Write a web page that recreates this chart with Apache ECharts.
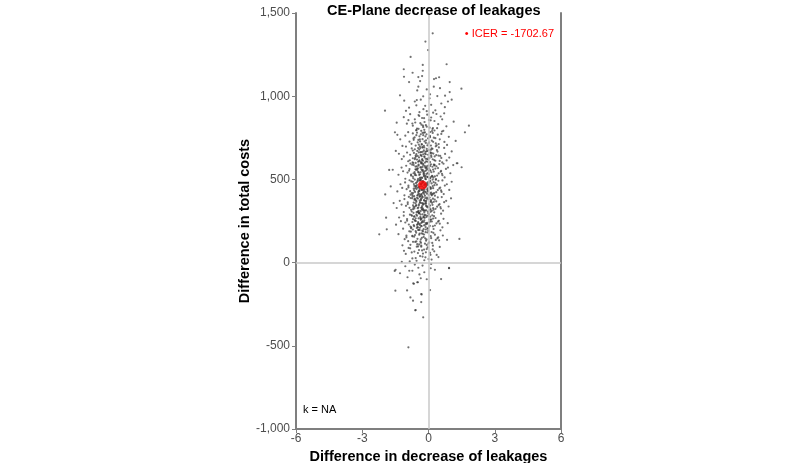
<!DOCTYPE html>
<html>
<head>
<meta charset="utf-8">
<script src="https://cdn.jsdelivr.net/npm/echarts@6/dist/echarts.min.js"></script>
<style>
  html, body { margin: 0; padding: 0; background: #fff; }
  #chart { width: 800px; height: 463px; }
</style>
</head>
<body>
<div id="chart"></div>
<script>
// simulated differences (effect, cost) read off the CE-plane
const simOutliers = [
  [0.19,1378],[-0.14,1328],[-0.02,1277],[-0.81,1236],[-0.26,1188],[0.82,1192],[-1.12,1162],[-0.26,1153],
  [-0.72,1141],[-1.11,1117],[-0.46,1115],[-0.29,1121],[0.48,1114],[0.34,1108],[0.25,1103],[-0.88,1085],
  [-0.38,1091],[0.24,1057],[0.96,1085],[-0.46,1057],[0.52,1048],[-0.51,1035],[-0.08,1041],[1.49,1045],
  [0.96,1025],[0.75,1003],[-1.29,1005],[-0.24,999],[0.07,1011],[0.40,1001],[-1.10,973],[-0.53,977],
  [1.05,979],[-1.97,913],[1.83,823],[-1.44,841],[-1.52,783],[1.65,783],
  [-2.23,170],[1.40,142],[1.50,573],[1.28,597],[-1.92,270],[-1.78,557],[-1.96,410],[0.93,-32],
  [-1.53,-50],[-1.89,200],
  [-1.50,-169],[-0.97,-167],[-0.69,-125],[-0.48,-118],[-0.82,-209],[-0.70,-229],[-0.33,-189],[-0.33,-237],
  [-0.60,-287],[-0.24,-329],[-0.91,-509],[0.07,-165],
  [-1.49,-43],[-1.29,-64],[-0.87,-49],[-0.73,-49],[-0.46,-31],[-0.19,-58],[0.10,-34],[0.29,-43],
  [0.93,-34],[0.57,-99],[-0.35,-94],[-0.08,-100],[-0.66,-127],[-0.51,-118],[-0.31,-191],[-0.58,-285],
  [-0.62,-12],[-0.27,-18],[-1.05,-22],[0.12,-8],[-0.41,-71],[-0.95,-88]
];

const simCore = [
  [-0.62,968],[-0.15,942],[0.31,915],[-0.88,931],[0.05,987],[-0.41,904],[0.58,956],[-0.23,922],[0.12,948],[-1.02,912],[0.74,934],[-0.35,979],[0.21,901],[-0.55,945],[0.88,968],[-0.08,910],
  [-0.45,887],[0.12,872],[-0.91,856],[0.36,893],[-0.18,845],[0.62,861],[-0.71,823],[0.05,811],[-0.29,869],[0.44,832],[-1.12,874],[0.27,851],[-0.52,806],[-0.06,889],[0.81,819],[-0.37,838],[0.18,803],[-0.83,892],[0.55,878],[-0.12,826],[1.14,847],[-0.62,861],[0.02,857],[-0.24,814],[0.39,808],[-0.98,835],[0.71,897],
  [-0.33,792],[0.08,785],[-0.71,776],[0.42,769],[-0.14,758],[-0.52,781],[0.24,751],[-1.05,763],[0.61,788],[-0.27,742],[0.15,733],[-0.86,727],[0.33,716],[-0.44,709],[0.03,722],[-0.19,798],[0.51,741],[-0.63,752],[0.72,725],[-1.28,741],[-0.09,771],[0.27,794],[-0.38,728],[0.11,703],[-0.77,714],[0.46,712],[-0.24,766],[0.92,756],[-0.56,795],[-0.02,746],[0.19,779],[-0.46,737],[-1.18,701],[0.37,704],[-0.31,712],[0.06,762],[-0.67,738],[0.58,773],[-0.12,719],[0.84,707],[-0.92,784],[0.21,726],[-0.41,759],[-0.05,705],[0.31,748],[-0.58,703],[1.23,731],[-0.21,781],[0.67,792],[-1.41,768],
  [-0.28,694],[0.14,687],[-0.62,681],[0.38,676],[-0.09,669],[-0.44,662],[0.22,655],[-0.83,648],[0.53,641],[-0.18,634],[0.04,627],[-0.52,619],[0.31,612],[-0.35,605],[-1.02,697],[0.71,689],[-0.71,673],[0.09,662],[-0.24,651],[0.45,643],[-0.57,637],[-0.13,624],[0.26,616],[-0.92,609],[0.62,602],[-0.39,698],[0.18,684],[-0.05,671],[-0.66,659],[0.35,646],[-0.31,639],[0.01,631],[-1.21,622],[0.82,614],[-0.47,606],[-0.16,601],[0.47,692],[-0.76,686],[0.11,678],[-0.26,666],[-0.55,652],[0.28,638],[-0.07,623],[-0.85,615],[0.58,629],[-0.33,645],[1.05,668],[-1.34,654],[-0.19,692],[0.07,604],[-0.42,679],[0.19,621],[-0.61,628],[0.41,667],[-0.11,609],[-0.97,661],[0.75,653],[-0.29,617],[-0.02,648],[0.33,699],[-0.49,641],[0.94,631],[-0.72,602],[0.15,658],[-0.36,663],[-1.12,638],[0.51,611],[-0.21,674],[1.31,597],[-1.48,671],
  [-0.31,597],[0.11,591],[-0.67,586],[0.36,579],[-0.14,573],[-0.48,566],[0.21,559],[-0.88,552],[0.55,546],[-0.22,539],[0.02,532],[-0.56,525],[0.29,518],[-0.38,511],[-1.05,504],[0.68,594],[-0.74,588],[0.08,581],[-0.27,575],[0.43,568],[-0.59,561],[-0.11,554],[0.24,547],[-0.95,541],[0.61,534],[-0.42,527],[0.16,521],[-0.04,514],[-0.69,507],[0.34,502],[-0.33,596],[-0.01,583],[-1.22,571],[0.79,563],[-0.51,556],[-0.17,549],[0.46,536],[-0.79,529],[0.12,516],[-0.29,509],[-0.58,599],[0.27,584],[-0.08,569],[-0.86,562],[0.57,551],[-0.36,543],[0.99,537],[-1.36,528],[-0.21,519],[0.05,506],[-0.45,589],[0.18,576],[-0.63,544],[0.39,523],[-0.12,501],[-1.01,582],[0.73,512],[-0.26,557],[-0.03,538],[0.31,565],[-0.53,578],[0.88,571],[-0.71,517],[0.13,543],[-0.39,531],[-1.15,549],[0.49,592],[-0.19,524],[-0.47,503],[0.22,511],[-0.82,595],[-0.06,561],[0.63,525],[-0.34,573],[-0.61,534],[0.09,552],[-1.62,558],[1.12,586],[-0.24,587],[-0.15,512],
  [-0.35,497],[0.08,491],[-0.71,486],[0.31,479],[-0.17,473],[-0.52,466],[0.19,459],[-0.91,452],[0.49,446],[-0.26,439],[-0.02,432],[-0.61,425],[0.26,418],[-0.42,411],[-1.09,404],[0.63,494],[-0.78,488],[0.04,481],[-0.31,475],[0.38,468],[-0.64,461],[-0.13,454],[0.21,447],[-0.99,441],[0.57,434],[-0.46,427],[0.12,421],[-0.07,414],[-0.73,407],[0.29,402],[-0.38,496],[-0.04,483],[-1.27,471],[0.74,463],[-0.56,456],[-0.21,449],[0.42,436],[-0.83,429],[0.09,416],[-0.33,409],[-0.62,499],[0.23,484],[-0.11,469],[-0.91,462],[0.53,451],[-0.41,443],[0.94,437],[-1.41,428],[-0.25,419],[0.01,406],[-0.49,489],[0.14,476],[-0.67,444],[0.35,423],[-0.16,401],[-1.06,482],[0.69,412],[-0.29,457],[-0.06,438],[0.27,465],[-0.57,478],[0.83,471],[-0.76,417],[0.1,443],[-0.43,431],[-1.19,449],[0.45,492],[-0.22,424],[-0.51,403],[0.18,411],[-0.86,495],[-0.09,461],[0.59,425],[-0.37,473],[-0.65,434],[0.06,452],[-1.71,458],[1.05,486],[-0.28,487],[-0.19,412],[-0.44,453],[-0.02,467],[0.33,498],[-0.81,408],[-0.31,438],
  [-0.38,397],[0.05,391],[-0.74,386],[0.28,379],[-0.2,373],[-0.55,366],[0.16,359],[-0.94,352],[0.46,346],[-0.29,339],[-0.05,332],[-0.64,325],[0.23,318],[-0.45,311],[-1.12,304],[0.6,394],[-0.81,388],[0.01,381],[-0.34,375],[0.35,368],[-0.67,361],[-0.16,354],[0.18,347],[-1.02,341],[0.54,334],[-0.49,327],[0.09,321],[-0.1,314],[-0.76,307],[0.26,302],[-0.41,396],[-0.07,383],[-1.3,371],[0.71,363],[-0.59,356],[-0.24,349],[0.39,336],[-0.86,329],[0.06,316],[-0.36,309],[-0.65,399],[0.2,384],[-0.14,369],[-0.94,362],[0.5,351],[-0.44,343],[0.91,337],[-1.44,328],[-0.28,319],[-0.02,306],[-0.52,389],[0.11,376],[-0.7,344],[0.32,323],[-0.19,301],[-1.09,382],[0.66,312],[-0.32,357],[-0.09,338],[0.24,365],[-0.6,378],[0.8,371],[-0.79,317],[0.07,343],[-0.46,331],[-1.22,349],[0.42,392],[-0.25,324],[-0.54,303],[0.15,311],[-0.89,395],[-0.12,361],[0.56,325],[-0.4,373],[-0.68,334],[0.03,352],[-1.58,358],[1.02,386],[-0.31,387],[-0.22,312],
  [-0.41,297],[0.02,291],[-0.77,286],[0.25,279],[-0.23,273],[-0.58,266],[0.13,259],[-0.97,252],[0.43,246],[-0.32,239],[-0.08,232],[-0.67,225],[0.2,218],[-0.48,211],[-1.15,204],[0.57,294],[-0.84,288],[-0.02,281],[-0.37,275],[0.32,268],[-0.7,261],[-0.19,254],[0.15,247],[-1.05,241],[0.51,234],[-0.52,227],[0.06,221],[-0.13,214],[-0.79,207],[0.23,202],[-0.44,296],[-0.1,283],[-1.33,271],[0.68,263],[-0.62,256],[-0.27,249],[0.36,236],[-0.89,229],[0.03,216],[-0.39,209],[-0.68,299],[0.17,284],[-0.17,269],[-0.97,262],[0.47,251],[-0.47,243],[0.87,237],[-1.47,228],[-0.31,219],[-0.05,206],[-0.55,289],[0.08,276],[-0.73,244],[0.29,223],[-0.22,201],[-1.12,282],[0.63,212],[-0.35,257],[-0.12,238],[0.21,265],[-0.63,278],[-0.82,217],[0.04,243],[-0.49,231],[-1.25,249],
  [-0.44,197],[-0.01,191],[-0.8,186],[0.22,179],[-0.26,173],[-0.61,166],[0.1,159],[-1.0,152],[0.4,146],[-0.35,139],[-0.11,132],[-0.7,125],[0.17,118],[-0.51,111],[-1.18,104],[0.54,194],[-0.87,188],[-0.05,181],[-0.4,175],[0.29,168],[-0.73,161],[-0.22,154],[0.12,147],[-1.08,141],[0.48,134],[-0.55,127],[0.03,121],[-0.16,114],[-0.82,107],[0.2,102],[-0.47,196],[-0.13,183],[-1.36,171],[0.65,163],[-0.65,156],[-0.3,149],[0.33,136],[-0.92,129],[0.0,116],[-0.42,109],[-0.71,199],[0.14,184],[-0.2,169],[-1.0,162],[0.44,151],[-0.5,143],[0.84,137],[-0.34,119],[-0.08,106],[-0.58,189],
  [-0.47,97],[-0.04,91],[-0.83,86],[0.19,79],[-0.29,73],[-0.64,66],[0.07,59],[-1.03,52],[0.37,46],[-0.38,39],[-0.14,32],[-0.73,25],[0.14,18],[-0.54,11],[-1.21,4],[0.51,94],[-0.9,88],[-0.08,81],[-0.43,75],[0.26,68],[-0.76,61],[-0.25,54],[0.09,47],[-0.58,27],[0.0,21],[-0.19,14],[-0.85,7],[0.45,33],[-0.33,96],[-1.11,71]
];

// extra points in the densest part of the cloud
const simCenter = [
  [-0.21,702],[-0.47,688],[0.02,676],[-0.33,664],[-0.12,651],[-0.58,643],[0.13,635],[-0.28,622],[-0.41,614],[-0.06,606],[-0.69,598],[0.24,589],[-0.17,581],[-0.37,572],[-0.52,564],[0.06,556],[-0.24,548],[-0.44,541],[-0.09,533],[-0.61,526],[0.18,518],[-0.31,511],[-0.14,503],[-0.49,495],[0.04,488],[-0.27,480],[-0.66,472],[-0.19,465],[-0.39,457],[0.11,449],[-0.54,442],[-0.23,434],[-0.03,427],[-0.46,419],[-0.32,411],[0.15,404],[-0.72,396],[-0.15,388],[-0.35,381],[-0.56,373],[0.08,365],[-0.26,357],[-0.43,350],[-0.11,342],[-0.63,335],[0.21,327],[-0.3,319],[-0.18,312],[-0.5,304],[-0.01,296],[-0.36,289],[-0.75,281],[-0.22,273],[-0.45,266],[0.09,258],[-0.57,250],[-0.29,243],[-0.07,235],[-0.4,227],[-0.65,219],
  [-0.18,728],[-0.39,741],[0.07,754],[-0.55,766],[-0.27,779],[0.16,791],[-0.45,804],[-0.08,817],[-0.32,829],[-0.6,842],[0.1,855],[-0.2,868],[-0.42,881],
  [-0.26,691],[-0.08,683],[-0.51,671],[0.09,658],[-0.36,646],[-0.19,638],[-0.71,627],[-0.02,619],[-0.43,609],[-0.24,594],[0.27,587],[-0.59,577],[-0.13,569],[-0.32,561],[0.01,552],[-0.47,545],[-0.21,536],[-0.79,523],[-0.05,515],[-0.38,507],[0.19,499],[-0.25,490],[-0.53,482],[-0.1,476],[-0.34,468],[0.05,455],[-0.6,447],[-0.18,439],[-0.41,431],[-0.12,423],[0.22,415],[-0.48,407],[-0.29,399],[-0.07,391],[-0.62,384],[-0.2,376],[0.12,368],[-0.39,360],[-0.24,352],[-0.55,345],[-0.04,337],[-0.33,329],[-0.7,321],[-0.15,313],[0.1,305],[-0.43,298],[-0.27,290],[-0.52,282],[-0.09,274],[-0.36,267],[0.03,259],[-0.61,251],[-0.21,244],[-0.46,236],[-0.14,228],[-0.34,221],[-0.78,212],[-0.02,204],[-0.4,196],[-0.25,188],[-0.56,180],
  [-0.3,709],[0.0,716],[-0.49,723],[-0.11,735],[-0.68,747],[0.05,758],[-0.35,771],[-0.16,783],[-0.54,797],[0.2,809],[-0.25,823],[-0.73,836],
  [-0.16,655],[-0.43,632],[-0.31,601],[-0.08,579],[-0.57,558],[-0.22,529],[-0.36,497],[-0.02,474],[-0.5,451],[-0.17,426],[-0.38,402],[-0.64,378],[-0.11,355],[-0.3,331],[-0.47,307],[-0.19,283],[-0.35,262],[-0.06,239],[-0.5,215],[-0.28,192],[-0.42,168],[-0.15,146],[-0.6,124],[-0.33,102],[-0.2,78],[-0.48,57],[-0.27,36],
  [-0.37,688],[-0.14,666],[0.12,644],[-0.62,621],[-0.25,612],[-0.45,583],[0.03,566],[-0.29,553],[-0.68,537],[-0.13,521],[0.08,508],[-0.41,493],[-0.23,484],[-0.58,461],[-0.04,446],[-0.32,437],[-0.7,418],[0.13,409],[-0.26,393],[-0.48,385],[-0.1,371],[-0.38,362],[-0.57,341],[0.04,332],[-0.23,316],[-0.44,301],[-0.16,287],[-0.66,276],[-0.31,264],[0.07,248],[-0.39,233],[-0.2,224],[-0.53,208],[-0.12,199],[-0.31,176],[-0.73,158],[-0.09,139],[-0.37,126],[-0.53,96],[-0.12,62]
];

// point estimate (mean difference) and ICER label
const meanPoint = [-0.274, 466.5];
const icerLabel = '• ICER = -1702.67';
const kLabel = 'k = NA';

const xTicks = [-6, 6, 3];     // min, max, interval
const yTicks = [-1000, 1500, 500];

const chart = echarts.init(document.getElementById('chart'));
const font = 'Liberation Sans, Arial, sans-serif';
const frameLine = { show: true, onZero: false, lineStyle: { color: '#7f7f7f', width: 2 } };

chart.setOption({
  animation: false,
  title: {
    text: 'CE-Plane decrease of leakages',
    left: 322,
    top: -2,
    textStyle: { fontFamily: font, fontSize: 14.5, fontWeight: 'bold', color: '#000' }
  },
  grid: { left: 296, right: 239, top: 13, bottom: 34, outerBoundsMode: 'none' },
  xAxis: {
    type: 'value',
    min: xTicks[0], max: xTicks[1], interval: xTicks[2],
    name: 'Difference in decrease of leakages',
    nameLocation: 'middle',
    nameGap: 20,
    nameTextStyle: { fontFamily: font, fontSize: 14.5, fontWeight: 'bold', color: '#000' },
    axisLine: frameLine,
    axisTick: { show: true, length: 4, lineStyle: { color: '#7f7f7f' } },
    axisLabel: { fontFamily: font, fontSize: 12, color: '#4d4d4d', margin: 4 },
    splitLine: { show: false }
  },
  yAxis: [{
    type: 'value',
    min: yTicks[0], max: yTicks[1], interval: yTicks[2],
    name: 'Difference in total costs',
    nameLocation: 'middle',
    nameGap: 36,
    nameTextStyle: { fontFamily: font, fontSize: 14.5, fontWeight: 'bold', color: '#000' },
    axisLine: frameLine,
    axisTick: { show: true, length: 4, lineStyle: { color: '#7f7f7f' } },
    axisLabel: {
      fontFamily: font, fontSize: 12, color: '#4d4d4d', margin: 6,
      formatter: v => v.toLocaleString('en-US')
    },
    splitLine: { show: false }
  }, {
    type: 'value',
    position: 'right',
    min: yTicks[0], max: yTicks[1], interval: yTicks[2],
    axisLine: frameLine,
    axisTick: { show: false },
    axisLabel: { show: false },
    splitLine: { show: false }
  }],
  series: [{
    type: 'scatter',
    data: simOutliers.concat(simCore, simCenter),
    symbolSize: 2.2,
    itemStyle: { color: '#3a3a3a', opacity: 0.72 },
    silent: true,
    markLine: {
      silent: true,
      symbol: 'none',
      label: { show: false },
      lineStyle: { color: '#c8c8c8', width: 1.5, type: 'solid' },
      data: [{ xAxis: 0 }, { yAxis: 0 }]
    },
    z: 2
  }, {
    type: 'scatter',
    data: [meanPoint],
    symbolSize: 9,
    itemStyle: { color: '#ff0000' },
    z: 3
  }],
  graphic: [{
    type: 'text',
    right: 246,
    top: 28,
    style: { text: icerLabel, fill: '#ff0000', font: '11px ' + font }
  }, {
    type: 'text',
    left: 303,
    top: 404,
    style: { text: kLabel, fill: '#000', font: '11px ' + font }
  }]
});
</script>
</body>
</html>
